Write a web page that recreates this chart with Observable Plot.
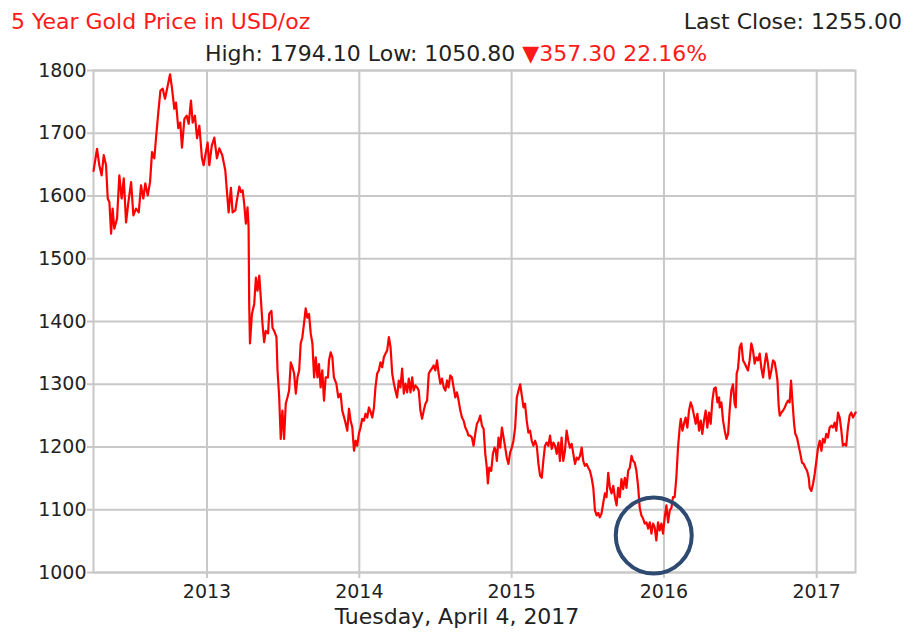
<!DOCTYPE html>
<html>
<head>
<meta charset="utf-8">
<script src="https://cdn.jsdelivr.net/npm/d3@7"></script>
<script src="https://cdn.jsdelivr.net/npm/@observablehq/plot@0.6"></script>
<style>
  html, body { margin: 0; padding: 0; background: #fff; }
  #wrap { position: relative; width: 904px; height: 632px; font-family: "DejaVu Sans", Verdana, sans-serif; }
  .lbl { position: absolute; white-space: nowrap; font-size: 22px; line-height: 1; z-index: 2; }
</style>
</head>
<body>
<div id="wrap">
  <div class="lbl" id="title" style="left:11px; top:11px; color:#ff1a1a;"></div>
  <div class="lbl" id="last" style="right:2px; top:11px; color:#222;"></div>
  <div class="lbl" id="hilo" style="left:0; width:912px; text-align:center; top:43px; color:#222;"></div>
  <div class="lbl" id="date" style="left:0; width:914px; text-align:center; top:606px; color:#222;"></div>
</div>
<script>
// ---- Text ----
const titleText = "5 Year Gold Price in USD/oz";
const lastClose = "Last Close: 1255.00";
const highLow = "High: 1794.10 Low: 1050.80";
const changeText = "\u25BC357.30 22.16%";
const dateText = "Tuesday, April 4, 2017";

// ---- Axis ----
const yTicks = [1000, 1100, 1200, 1300, 1400, 1500, 1600, 1700, 1800];
const xTickYears = [2013, 2014, 2015, 2016, 2017];
const xStart = "2012-04-04";
const xEnd = "2017-04-04";

// ---- Series: [decimal year, USD/oz] ----
const gold2012 = [
[2012.257,1640],[2012.280,1675],[2012.295,1649],[2012.310,1633],[2012.324,1665],[2012.339,1649],
[2012.350,1596],[2012.361,1590],[2012.372,1540],[2012.382,1580],[2012.393,1548],[2012.411,1564],
[2012.426,1633],[2012.441,1596],[2012.455,1628],[2012.470,1558],[2012.485,1590],[2012.503,1622],
[2012.518,1569],[2012.535,1580],[2012.553,1574],[2012.568,1617],[2012.583,1596],[2012.596,1620],
[2012.612,1601],[2012.627,1622],[2012.640,1670],[2012.655,1660],[2012.666,1692],[2012.681,1733],
[2012.695,1768],[2012.710,1771],[2012.725,1755],[2012.743,1776],[2012.758,1794],[2012.771,1771],
[2012.786,1739],[2012.797,1749],[2012.812,1708],[2012.825,1717],[2012.836,1677],[2012.852,1723],
[2012.867,1728],[2012.880,1715],[2012.895,1752],[2012.906,1717],[2012.921,1728],[2012.935,1692],
[2012.950,1712],[2012.967,1660],[2012.978,1649],[2012.989,1665]
];
const gold2013 = [
[2013.004,1685],[2013.015,1649],[2013.031,1680],[2013.048,1693],[2013.065,1660],[2013.081,1676],
[2013.100,1665],[2013.120,1641],[2013.129,1613],[2013.142,1574],[2013.157,1613],[2013.168,1574],
[2013.186,1577],[2013.196,1593],[2013.212,1615],[2013.223,1606],[2013.234,1609],[2013.244,1588],
[2013.255,1556],[2013.266,1582],[2013.273,1550],[2013.277,1428],[2013.282,1365],[2013.295,1412],
[2013.310,1428],[2013.321,1470],[2013.332,1449],[2013.343,1473],[2013.353,1438],[2013.364,1397],
[2013.375,1367],[2013.386,1385],[2013.401,1381],[2013.408,1412],[2013.423,1417],[2013.430,1390],
[2013.441,1385],[2013.456,1375],[2013.463,1322],[2013.474,1279],[2013.484,1213],[2013.495,1258],
[2013.506,1213],[2013.517,1269],[2013.528,1279],[2013.539,1290],[2013.550,1335],[2013.561,1327],
[2013.572,1317],[2013.583,1285],[2013.594,1311],[2013.605,1322],[2013.615,1365],[2013.626,1375],
[2013.637,1397],[2013.648,1421],[2013.659,1406],[2013.670,1412],[2013.681,1381],[2013.692,1365],
[2013.703,1311],[2013.714,1343],[2013.725,1311],[2013.735,1332],[2013.746,1295],[2013.757,1322],
[2013.768,1274],[2013.779,1311],[2013.794,1311],[2013.801,1338],[2013.812,1351],[2013.823,1343],
[2013.833,1311],[2013.849,1301],[2013.862,1279],[2013.877,1285],[2013.888,1258],[2013.906,1242],
[2013.921,1226],[2013.932,1261],[2013.943,1242],[2013.954,1231],[2013.965,1194],[2013.976,1210],
[2013.986,1202],[2013.997,1221]
];
const gold2014 = [
[2014.008,1231],[2014.019,1245],[2014.030,1242],[2014.041,1253],[2014.052,1247],[2014.063,1263],
[2014.074,1256],[2014.085,1247],[2014.096,1263],[2014.106,1295],[2014.117,1317],[2014.128,1322],
[2014.139,1335],[2014.150,1327],[2014.161,1343],[2014.172,1349],[2014.183,1354],[2014.194,1375],
[2014.205,1359],[2014.216,1317],[2014.227,1301],[2014.237,1290],[2014.248,1279],[2014.259,1306],
[2014.270,1295],[2014.281,1325],[2014.292,1285],[2014.303,1301],[2014.314,1287],[2014.325,1309],
[2014.336,1287],[2014.347,1311],[2014.357,1290],[2014.368,1298],[2014.379,1295],[2014.390,1290],
[2014.401,1258],[2014.412,1245],[2014.423,1258],[2014.434,1269],[2014.445,1274],[2014.456,1317],
[2014.467,1322],[2014.477,1325],[2014.488,1330],[2014.499,1322],[2014.510,1338],[2014.521,1317],
[2014.532,1301],[2014.543,1309],[2014.554,1295],[2014.565,1290],[2014.576,1306],[2014.586,1295],
[2014.597,1314],[2014.608,1311],[2014.619,1295],[2014.630,1279],[2014.641,1287],[2014.652,1274],
[2014.663,1258],[2014.674,1247],[2014.685,1242],[2014.696,1231],[2014.706,1226],[2014.717,1218],
[2014.728,1218],[2014.739,1215],[2014.750,1202],[2014.761,1221],[2014.772,1237],[2014.783,1242],
[2014.794,1250],[2014.805,1234],[2014.816,1229],[2014.827,1189],[2014.837,1167],[2014.844,1142],
[2014.853,1167],[2014.866,1162],[2014.877,1189],[2014.888,1199],[2014.896,1194],[2014.903,1178],
[2014.914,1215],[2014.925,1199],[2014.936,1231],[2014.947,1215],[2014.958,1199],[2014.968,1183],
[2014.979,1173],[2014.990,1191]
];
const gold2015 = [
[2015.001,1199],[2015.012,1210],[2015.023,1231],[2015.034,1279],[2015.045,1290],[2015.056,1300],
[2015.067,1282],[2015.078,1263],[2015.088,1269],[2015.099,1242],[2015.110,1223],[2015.121,1226],
[2015.132,1210],[2015.143,1202],[2015.154,1210],[2015.165,1202],[2015.176,1173],[2015.187,1154],
[2015.198,1151],[2015.208,1178],[2015.219,1202],[2015.230,1207],[2015.241,1202],[2015.252,1218],
[2015.263,1197],[2015.274,1207],[2015.285,1202],[2015.296,1189],[2015.307,1207],[2015.317,1178],
[2015.328,1215],[2015.339,1178],[2015.350,1194],[2015.361,1226],[2015.372,1210],[2015.383,1199],
[2015.394,1205],[2015.405,1189],[2015.416,1173],[2015.427,1183],[2015.438,1180],[2015.449,1186],
[2015.460,1199],[2015.470,1178],[2015.481,1170],[2015.492,1173],[2015.503,1167],[2015.514,1162],
[2015.525,1151],[2015.536,1135],[2015.547,1099],[2015.558,1091],[2015.569,1095],[2015.579,1088],
[2015.590,1094],[2015.601,1110],[2015.612,1126],[2015.623,1120],[2015.634,1159],[2015.645,1135],
[2015.656,1126],[2015.667,1138],[2015.678,1120],[2015.689,1107],[2015.699,1135],[2015.710,1120],
[2015.721,1149],[2015.732,1133],[2015.743,1151],[2015.754,1135],[2015.765,1162],[2015.776,1167],
[2015.787,1186],[2015.797,1178],[2015.808,1175],[2015.819,1162],[2015.830,1138],[2015.841,1103],
[2015.852,1091],[2015.863,1086],[2015.874,1078],[2015.885,1080],[2015.896,1070],[2015.907,1080],
[2015.918,1062],[2015.928,1078],[2015.939,1072],[2015.950,1051],[2015.961,1080],[2015.972,1067],
[2015.983,1078],[2015.994,1062]
];
const gold2016 = [
[2016.005,1088],[2016.016,1107],[2016.027,1080],[2016.038,1099],[2016.049,1103],[2016.059,1120],
[2016.070,1120],[2016.081,1151],[2016.092,1199],[2016.103,1231],[2016.110,1245],[2016.121,1226],
[2016.131,1237],[2016.142,1247],[2016.153,1231],[2016.164,1258],[2016.175,1271],[2016.186,1263],
[2016.197,1250],[2016.208,1237],[2016.219,1253],[2016.230,1226],[2016.241,1242],[2016.251,1221],
[2016.262,1242],[2016.273,1258],[2016.284,1231],[2016.295,1255],[2016.306,1237],[2016.317,1274],
[2016.328,1293],[2016.339,1295],[2016.350,1271],[2016.361,1279],[2016.365,1263],[2016.376,1271],
[2016.387,1242],[2016.398,1226],[2016.409,1213],[2016.420,1221],[2016.430,1258],[2016.441,1290],
[2016.452,1300],[2016.463,1269],[2016.470,1263],[2016.476,1317],[2016.485,1325],[2016.496,1359],
[2016.507,1365],[2016.518,1338],[2016.529,1333],[2016.540,1327],[2016.550,1322],[2016.561,1338],
[2016.572,1365],[2016.583,1354],[2016.594,1333],[2016.605,1343],[2016.616,1338],[2016.627,1349],
[2016.638,1325],[2016.649,1311],[2016.660,1333],[2016.670,1349],[2016.681,1333],[2016.692,1309],
[2016.703,1322],[2016.714,1338],[2016.725,1335],[2016.736,1319],[2016.743,1306],[2016.751,1266],
[2016.758,1250],[2016.769,1255],[2016.780,1258],[2016.791,1263],[2016.801,1269],[2016.812,1274],
[2016.823,1271],[2016.832,1306],[2016.841,1274],[2016.852,1237],[2016.860,1221],[2016.871,1215],
[2016.882,1202],[2016.893,1189],[2016.904,1175],[2016.915,1173],[2016.926,1167],[2016.937,1162],
[2016.948,1151],[2016.954,1135],[2016.965,1130],[2016.976,1141],[2016.987,1157],[2016.998,1178]
];
const gold2017 = [
[2017.009,1199],[2017.020,1210],[2017.031,1194],[2017.041,1213],[2017.052,1207],[2017.063,1221],
[2017.074,1215],[2017.085,1231],[2017.096,1234],[2017.107,1231],[2017.118,1239],[2017.129,1226],
[2017.140,1255],[2017.151,1247],[2017.162,1226],[2017.172,1202],[2017.183,1205],[2017.194,1202],
[2017.205,1231],[2017.216,1250],[2017.227,1255],[2017.238,1247],[2017.256,1255]
];

// Annotation circle around the late-2015 low
const circleMark = [{t: 2015.933, v: 1059}];

// ---- Build ----
function fromDecimalYear(t) {
  const y = Math.floor(t);
  const a = Date.UTC(y, 0, 1), b = Date.UTC(y + 1, 0, 1);
  return new Date(a + (t - y) * (b - a));
}
const series = [...gold2012, ...gold2013, ...gold2014, ...gold2015, ...gold2016, ...gold2017]
  .map(([t, v]) => ({date: fromDecimalYear(t), price: v}));
const circles = circleMark.map(d => ({date: fromDecimalYear(d.t), price: d.v}));
const xTicks = xTickYears.map(y => new Date(Date.UTC(y, 0, 1)));

document.getElementById("title").textContent = titleText;
document.getElementById("last").textContent = lastClose;
document.getElementById("hilo").innerHTML = highLow + ' <span style="color:#ff1a1a">' + changeText + '</span>';
document.getElementById("date").textContent = dateText;

const gridColor = "#c8c8c8";
const chart = Plot.plot({
  width: 904,
  height: 632,
  marginTop: 70,
  marginRight: 49,
  marginBottom: 60,
  marginLeft: 93,
  style: {fontFamily: '"DejaVu Sans", Verdana, sans-serif', fontSize: "19px", color: "#222", background: "transparent"},
  x: {type: "utc", domain: [new Date(xStart), new Date(xEnd)]},
  y: {domain: [1000, 1800]},
  marks: [
    Plot.gridX(xTicks, {stroke: gridColor, strokeOpacity: 1, strokeWidth: 2}),
    Plot.gridY(yTicks, {stroke: gridColor, strokeOpacity: 1, strokeWidth: 2}),
    Plot.frame({stroke: gridColor, strokeWidth: 2}),
    Plot.axisX(xTicks, {tickFormat: d3.utcFormat("%Y"), tickSize: 6, tickPadding: 6, stroke: gridColor, strokeWidth: 2, fill: "#222", label: null, fontSize: 19}),
    Plot.axisY(yTicks, {tickFormat: d => String(d), tickSize: 6, tickPadding: 1, stroke: gridColor, strokeWidth: 2, fill: "#222", label: null, fontSize: 19}),
    Plot.line(series, {x: "date", y: "price", stroke: "#ff0000", strokeWidth: 2.2, curve: "linear"}),
    Plot.dot(circles, {x: "date", y: "price", r: 38, stroke: "#2e4a70", strokeWidth: 4, fill: "none"})
  ]
});
chart.style.position = "absolute";
chart.style.left = "0";
chart.style.top = "0";
chart.style.zIndex = "1";
document.getElementById("wrap").appendChild(chart);
</script>
</body>
</html>
